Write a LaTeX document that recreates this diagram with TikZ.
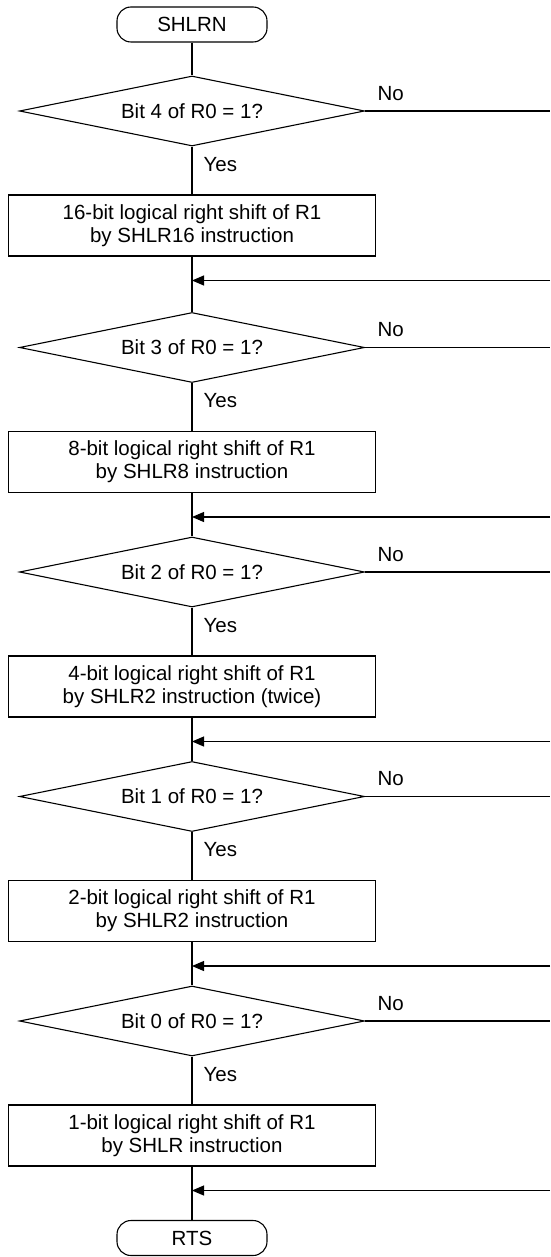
\documentclass[tikz,border=0pt]{standalone}
\usepackage{fontspec}
\setmainfont{Liberation Sans}
\usetikzlibrary{shapes.geometric,arrows.meta,positioning}

\begin{document}
\begin{tikzpicture}[node distance=114.5pt, line width=1.1pt, font=\fontsize{20.5}{23}\selectfont,
  term/.style={rectangle, rounded corners=14pt, draw, minimum width=150pt, minimum height=35pt, inner sep=0pt},
  proc/.style={rectangle, draw, minimum width=367pt, minimum height=61pt, align=center, inner sep=0pt},
  test/.style={diamond, draw, aspect=4.9, minimum width=345pt, minimum height=70pt, inner sep=0pt},
  lbl/.style={inner sep=0pt},
  back/.style={-{Triangle[length=12pt,width=10pt]}}]
\useasboundingbox (0,0) rectangle (550pt,-1257pt);
\coordinate (rim) at (550pt,0);
\node[term] (shlrn) at (192pt,-24.5pt) {SHLRN};
\node[test,below of=shlrn,node distance=86.5pt] (bit4) {Bit 4 of R0 = 1?};
\node[proc,below of=bit4] (sh16) {16-bit logical right shift of R1\\by SHLR16 instruction};
\node[test,below of=sh16,node distance=122pt] (bit3) {Bit 3 of R0 = 1?};
\node[proc,below of=bit3] (sh8) {8-bit logical right shift of R1\\by SHLR8 instruction};
\node[test,below of=sh8,node distance=110pt] (bit2) {Bit 2 of R0 = 1?};
\node[proc,below of=bit2] (sh4) {4-bit logical right shift of R1\\by SHLR2 instruction (twice)};
\node[test,below of=sh4,node distance=110pt] (bit1) {Bit 1 of R0 = 1?};
\node[proc,below of=bit1] (sh2) {2-bit logical right shift of R1\\by SHLR2 instruction};
\node[test,below of=sh2,node distance=110pt] (bit0) {Bit 0 of R0 = 1?};
\node[proc,below of=bit0] (sh1) {1-bit logical right shift of R1\\by SHLR instruction};
\node[term,below of=sh1,node distance=102.5pt] (rts) {RTS};

% joins where the skipped branches come back
\coordinate[below of=sh16,node distance=55pt] (j3);
\coordinate[below of=sh8,node distance=55pt] (j2);
\coordinate[below of=sh4,node distance=55pt] (j1);
\coordinate[below of=sh2,node distance=55pt] (j0);
\coordinate[below of=sh1,node distance=55pt] (jr);

\path (shlrn) edge (bit4)
      (bit4) edge node[lbl,right=11pt,pos=.37] {Yes} (sh16)
      (sh16) edge (bit3)
      (bit3) edge node[lbl,right=11pt,pos=.37] {Yes} (sh8)
      (sh8) edge (bit2)
      (bit2) edge node[lbl,right=11pt,pos=.37] {Yes} (sh4)
      (sh4) edge (bit1)
      (bit1) edge node[lbl,right=11pt,pos=.37] {Yes} (sh2)
      (sh2) edge (bit0)
      (bit0) edge node[lbl,right=11pt,pos=.37] {Yes} (sh1)
      (sh1) edge (rts);

\path (bit4.east) edge node[lbl,pos=0,anchor=south west,xshift=12pt,yshift=10pt] {No} (bit4.east -| rim)
      (bit3.east) edge node[lbl,pos=0,anchor=south west,xshift=12pt,yshift=10pt] {No} (bit3.east -| rim)
      (bit2.east) edge node[lbl,pos=0,anchor=south west,xshift=12pt,yshift=10pt] {No} (bit2.east -| rim)
      (bit1.east) edge node[lbl,pos=0,anchor=south west,xshift=12pt,yshift=10pt] {No} (bit1.east -| rim)
      (bit0.east) edge node[lbl,pos=0,anchor=south west,xshift=12pt,yshift=10pt] {No} (bit0.east -| rim);

\path[back] (j3 -| rim) edge (j3)
            (j2 -| rim) edge (j2)
            (j1 -| rim) edge (j1)
            (j0 -| rim) edge (j0)
            (jr -| rim) edge (jr);
\end{tikzpicture}
\end{document}
